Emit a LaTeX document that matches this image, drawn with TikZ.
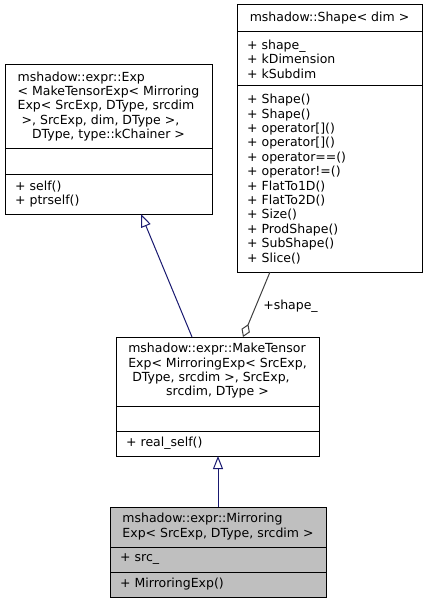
\documentclass[tikz,border=0pt]{standalone}
\usepackage{fontspec}
\setmainfont{DejaVu Sans}
\usetikzlibrary{positioning, arrows.meta}
\definecolor{edgeblue}{RGB}{25,25,112}
\definecolor{edgegray}{RGB}{64,64,64}
\definecolor{curgray}{RGB}{191,191,191}

\begin{document}
\begin{tikzpicture}[
    x=1pt, y=-1pt,
    every node/.style={font=\fontsize{12.5}{14.4}\selectfont, outer sep=0pt},
    classhead/.style={draw, line width=1pt, inner sep=0pt, align=center, anchor=north west},
    classbody/.style={draw, line width=1pt, inner xsep=10pt, inner ysep=0pt, align=left},
    inherit/.style={draw=edgeblue, line width=1pt, -{Triangle[open, length=13pt, width=10pt]}},
    member/.style={draw=edgegray, line width=1pt, {Diamond[open, length=14pt, width=9pt]}-}
]
\useasboundingbox (0,0) rectangle (427,604);

% Klase base Exp
\node[classhead, minimum width=207pt, minimum height=84pt] (expHead) at (5,65)
    {\begin{tabular}{@{}l@{}}mshadow::expr::Exp\\< MakeTensorExp< Mirroring\\Exp< SrcExp, DType, srcdim\\\ >, SrcExp, dim, DType >,\\\multicolumn{1}{@{}c@{}}{DType, type::kChainer >}\end{tabular}};
\node[classbody, below=0pt of expHead, text width=187pt, minimum height=25pt] (expAttr) {};
\node[classbody, below=0pt of expAttr, text width=187pt, minimum height=40pt] (expMeth) {+ self()\\+ ptrself()};

% Shape
\node[classhead, minimum width=185pt, minimum height=27pt] (shpHead) at (237,5) {mshadow::Shape< dim >};
\node[classbody, below=0pt of shpHead, text width=165pt, minimum height=54pt] (shpAttr) {+ shape\_\\+ kDimension\\+ kSubdim};
\node[classbody, below=0pt of shpAttr, text width=165pt, minimum height=186pt] (shpMeth)
    {+ Shape()\\+ Shape()\\+ operator[]()\\+ operator[]()\\+ operator==()\\+ operator!=()\\+ FlatTo1D()\\+ FlatTo2D()\\+ Size()\\+ ProdShape()\\+ SubShape()\\+ Slice()};

% MakeTensorExp
\node[classhead, minimum width=203pt, minimum height=69pt] (mkHead) at (116,337)
    {\begin{tabular}{@{}l@{}}mshadow::expr::MakeTensor\\Exp< MirroringExp< SrcExp,\\\ DType, srcdim >, SrcExp,\\\multicolumn{1}{@{}c@{}}{srcdim, DType >}\end{tabular}};
\node[classbody, below=0pt of mkHead, text width=183pt, minimum height=25pt] (mkAttr) {};
\node[classbody, below=0pt of mkAttr, text width=183pt, minimum height=25pt] (mkMeth) {+ real\_self()};

% MirroringExp
\node[classhead, fill=curgray, minimum width=216pt, minimum height=40pt] (mirHead) at (110,507)
    {\begin{tabular}{@{}l@{}}mshadow::expr::Mirroring\\Exp< SrcExp, DType, srcdim >\end{tabular}};
\node[classbody, fill=curgray, below=0pt of mirHead, text width=196pt, minimum height=25pt] (mirAttr) {+ src\_};
\node[classbody, fill=curgray, below=0pt of mirAttr, text width=196pt, minimum height=25pt] (mirMeth) {+ MirroringExp()};

% Flechas
\draw[inherit] ([xshift=-25.5pt]mkHead.north) -- ([xshift=32.5pt]expMeth.south);
\draw[inherit] (mirHead.north) -- (mirHead.north |- mkMeth.south);
\draw[member] ([xshift=25.5pt]mkHead.north) -- node[pos=0.48, right=4pt] (shapeLbl) {+shape\_} ([xshift=-59.5pt]shpMeth.south);

\end{tikzpicture}
\end{document}
